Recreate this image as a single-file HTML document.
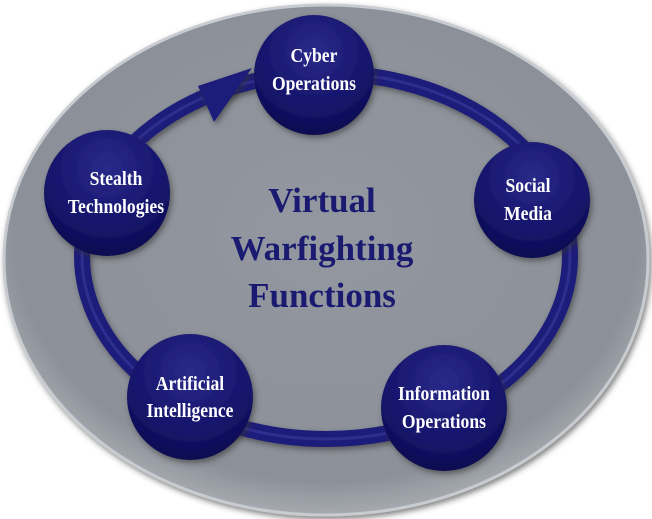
<!DOCTYPE html>
<html><head><style>
body{margin:0;background:#fff;}
svg{display:block}
</style></head><body>
<svg width="652" height="519" viewBox="0 0 652 519" xmlns="http://www.w3.org/2000/svg">
<defs>
<radialGradient id="bg" cx="50%" cy="45%" r="55%">
<stop offset="0" stop-color="#9398a0"/><stop offset="0.88" stop-color="#8c9098"/><stop offset="1" stop-color="#a6aab0"/>
</radialGradient>
<radialGradient id="nd" cx="50%" cy="30%" r="70%">
<stop offset="0" stop-color="#2a2a8a"/><stop offset="0.7" stop-color="#14146a"/><stop offset="1" stop-color="#0c0c50"/>
</radialGradient>
<filter id="sh" x="-20%" y="-20%" width="140%" height="140%"><feDropShadow dx="2" dy="3" stdDeviation="3" flood-color="#333" flood-opacity="0.6"/></filter>
</defs>
<ellipse cx="326" cy="260" rx="322" ry="255" fill="url(#bg)" stroke="#c8ccd0" stroke-width="3" filter="url(#sh)"/>
<ellipse cx="326" cy="256" rx="244" ry="183" fill="none" stroke="#1c1c7a" stroke-width="16" filter="url(#sh)"/>
<ellipse cx="326" cy="256" rx="244" ry="183" fill="none" stroke="#3a3aa0" stroke-width="3" stroke-opacity="0.6"/>
<polygon points="198,86 252,68 214,122" fill="#1c1c7a" filter="url(#sh)"/>
<g filter="url(#sh)">
<circle cx="314" cy="75" r="60" fill="url(#nd)"/>
<circle cx="107" cy="193" r="63" fill="url(#nd)"/>
<circle cx="532" cy="200" r="58" fill="url(#nd)"/>
<circle cx="190" cy="397" r="63" fill="url(#nd)"/>
<circle cx="444" cy="408" r="63" fill="url(#nd)"/>
</g>
<g font-family="'Liberation Serif',serif" font-weight="bold" fill="#fff" font-size="20" text-anchor="middle" transform="scale(0.88,1)">
<text x="356.8" y="62">Cyber</text><text x="356.8" y="90">Operations</text>
<text x="131.8" y="185">Stealth</text><text x="131.8" y="213">Technologies</text>
<text x="600" y="192">Social</text><text x="600" y="220">Media</text>
<text x="215.9" y="390">Artificial</text><text x="215.9" y="417">Intelligence</text>
<text x="504.5" y="400">Information</text><text x="504.5" y="428">Operations</text>
</g>
<g font-family="'Liberation Serif',serif" font-weight="bold" fill="#1a1a70" font-size="35" text-anchor="middle">
<text x="322" y="212">Virtual</text>
<text x="322" y="260">Warfighting</text>
<text x="322" y="307">Functions</text>
</g>
</svg>
</body></html>
